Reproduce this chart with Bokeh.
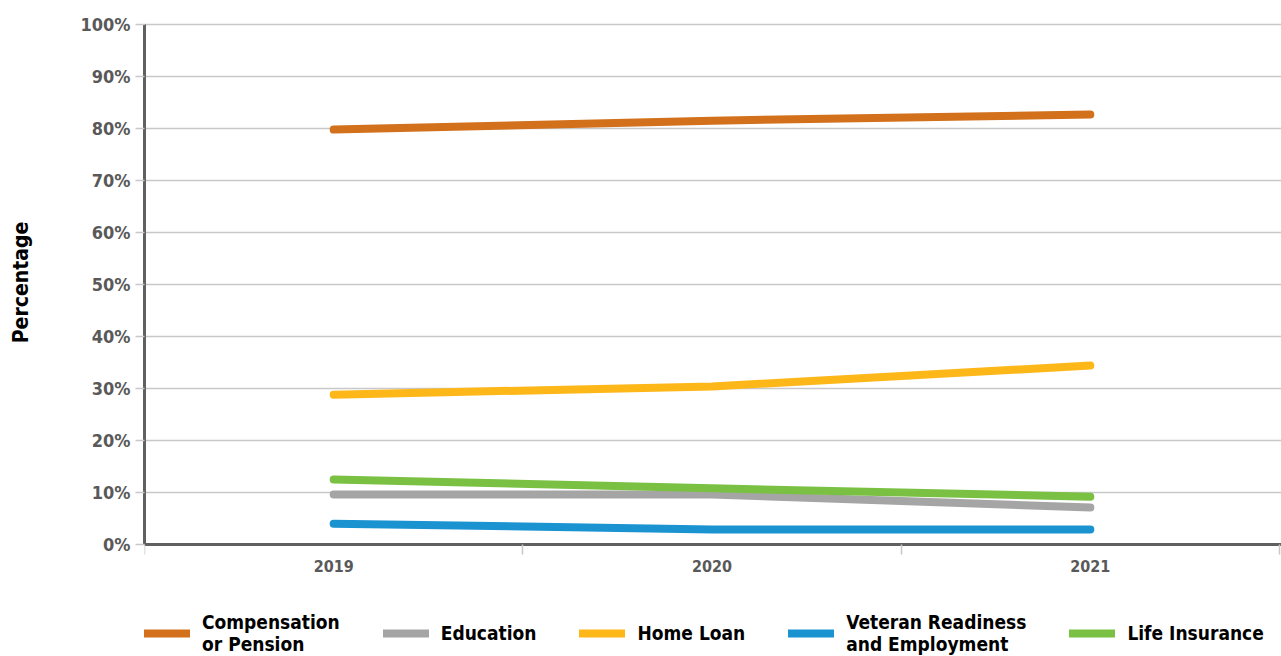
from bokeh.plotting import figure
from bokeh.models import FixedTicker, Legend, LegendItem, Range1d
from bokeh.embed import file_html
from bokeh.resources import INLINE

years = ["2019", "2020", "2021"]
series_names = ["Compensation\nor Pension", "Education", "Home Loan",
                "Veteran Readiness\nand Employment", "Life Insurance"]
compensation = [79.8, 81.5, 82.7]
education = [9.6, 9.6, 7.1]
home_loan = [28.8, 30.4, 34.4]
vre = [4.0, 2.9, 2.9]
life_insurance = [12.5, 10.8, 9.2]
colors = ["#D2701B", "#A5A5A5", "#FDB719", "#1B93D1", "#7AC143"]
y_ticks = list(range(0, 101, 10))
y_title = "Percentage"

FONT = "DejaVu Sans Condensed"

# frame: 1137 x 656 px; 0..100% occupies 520 px, 3 categories occupy 1135 px
p = figure(width=1281, height=656, output_backend="svg", toolbar_location=None,
           x_range=Range1d(0, 3.0053), y_range=Range1d(-21.54, 104.615),
           min_border_left=144, min_border_right=0, min_border_top=0,
           min_border_bottom=0, outline_line_color=None)

xs = [i + 0.5 for i in range(len(years))]
all_series = [compensation, education, home_loan, vre, life_insurance]
items = []
for name, vals, c in zip(series_names, all_series, colors):
    r = p.line(xs, vals, line_color=c, line_width=8, line_cap="round", line_join="round")
    items.append(LegendItem(label=name, renderers=[r]))

# y axis
p.yaxis.ticker = FixedTicker(ticks=y_ticks)
p.yaxis.bounds = (0, 100)
p.yaxis.major_label_overrides = {t: f"{t}%" for t in y_ticks}
p.yaxis.major_label_text_font = FONT
p.yaxis.major_label_text_font_style = "bold"
p.yaxis.major_label_text_font_size = "18px"
p.yaxis.major_label_text_color = "#595959"
p.yaxis.axis_line_color = "#606060"
p.yaxis.axis_line_width = 3
p.yaxis.major_tick_line_color = "#c8c8c8"
p.yaxis.major_tick_line_width = 1.5
p.yaxis.major_tick_out = 9
p.yaxis.major_tick_in = 0
p.yaxis.minor_tick_line_color = None
# leading non-breaking spaces lift the label to the middle of the 0-100% span
p.yaxis.axis_label = "\u00a0" * 14 + y_title
p.yaxis.axis_label_text_font = FONT
p.yaxis.axis_label_text_font_style = "bold"
p.yaxis.axis_label_text_font_size = "21px"
p.yaxis.axis_label_text_color = "#000000"
p.yaxis.axis_label_standoff = 44

# x axis, drawn at 0% inside the frame
p.xaxis.fixed_location = 0
p.xaxis.ticker = FixedTicker(ticks=xs, minor_ticks=[0, 1, 2, 3])
p.xaxis.major_label_overrides = {x: y for x, y in zip(xs, years)}
p.xaxis.major_label_text_font = FONT
p.xaxis.major_label_text_font_style = "bold"
p.xaxis.major_label_text_font_size = "16px"
p.xaxis.major_label_text_color = "#595959"
p.xaxis.major_label_standoff = 6
p.xaxis.axis_line_color = "#606060"
p.xaxis.axis_line_width = 3
p.xaxis.major_tick_line_color = None
p.xaxis.minor_tick_line_color = "#c8c8c8"
p.xaxis.minor_tick_line_width = 1.5
p.xaxis.minor_tick_out = 10
p.xaxis.minor_tick_in = 0

p.xgrid.grid_line_color = None
p.ygrid.ticker = FixedTicker(ticks=y_ticks[1:])
p.ygrid.grid_line_color = "#c8c8c8"
p.ygrid.grid_line_width = 1.5

legend = Legend(items=items, orientation="horizontal", location=(0, 1),
                label_text_font=FONT, label_text_font_style="bold",
                label_text_font_size="19px", label_text_color="#000000",
                label_text_line_height=1.15,
                glyph_width=46, glyph_height=20, label_standoff=12, spacing=43,
                border_line_color=None, background_fill_alpha=0,
                margin=0, padding=0)
p.add_layout(legend, "center")

open("out.html", "w").write(file_html(p, INLINE))
